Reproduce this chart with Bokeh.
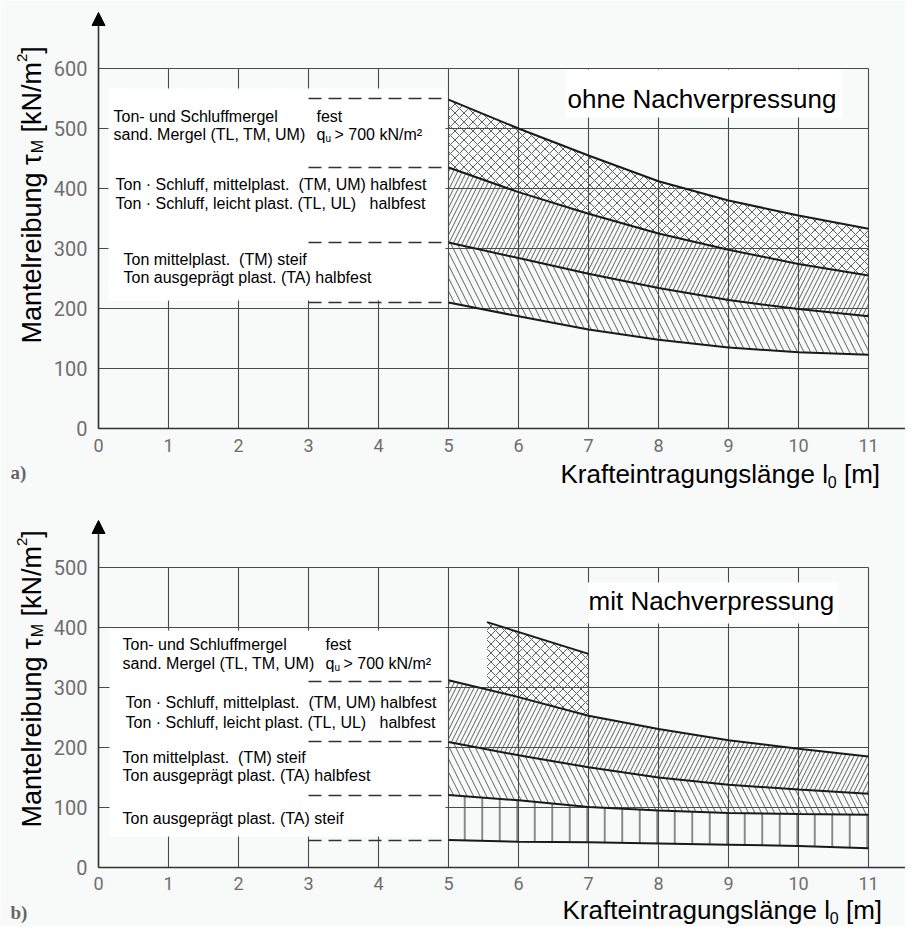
import math
from bokeh.plotting import figure
from bokeh.models import Range1d, Arrow, NormalHead
from bokeh.core.properties import value
from bokeh.embed import file_html
from bokeh.resources import INLINE

# ---------------- data ----------------
x_ticks = [0, 1, 2, 3, 4, 5, 6, 7, 8, 9, 10, 11]
y_ticks_a = [0, 100, 200, 300, 400, 500, 600]
y_ticks_b = [0, 100, 200, 300, 400, 500]

# a) ohne Nachverpressung
xa = [5, 6, 7, 8, 9, 10, 11]
a_c1 = [548, 500, 455, 412, 380, 355, 333]
a_c2 = [435, 394, 358, 325, 298, 274, 255]
a_c3 = [310, 284, 258, 234, 214, 199, 187]
a_c4 = [210, 187, 165, 148, 135, 127, 123]
a_levels = [550, 435, 310, 210]

# b) mit Nachverpressung
xb = [5, 6, 7, 8, 9, 10, 11]
b_c1 = [312, 284, 253, 231, 212, 198, 185]
b_c2 = [209, 187, 167, 150, 138, 130, 123]
b_c3 = [121, 112, 101, 95, 91, 89, 88]
b_c4 = [46, 43, 42, 40, 38, 36, 32]
b_cross_x = [5.55, 6, 7]
b_cross_top = [409, 393, 356]
b_cross_bot = [297, 284, 253]
b_levels = [310, 210, 120, 45]

dash_from, dash_to = 3, 5

NB = "\u00a0"
a_texts = [
    "Ton- und Schluffmergel",
    "sand. Mergel (TL, TM, UM)",
    "Ton · Schluff, mittelplast." + NB + " (TM, UM) halbfest",
    "Ton · Schluff, leicht plast. (TL, UL)" + NB + NB + " halbfest",
    "Ton mittelplast." + NB + " (TM) steif",
    "Ton ausgeprägt plast. (TA) halbfest",
]
b_texts = a_texts + ["Ton ausgeprägt plast. (TA) steif"]

# ---------------- layout ----------------
W, H = 905, 926
PX_PER_X = 70.0
PX_PER_Y = 0.6
X0 = 98.0
Y0A, Y0B = 428.0, 867.0          # page rows of the two zero lines
OFF_A = 0.0
OFF_B = (Y0A - Y0B) / PX_PER_Y   # vertical shift of panel b in the shared frame
FONT = "Liberation Sans"
TICK_FONT = "Roboto"
BG = "#f8f9f9"
GRID = "#4a4a4a"
HATCH = "#505050"
CURVE = "#1a1a1a"
AXIS = "#333333"


def fx(px):
    return (px - X0) / PX_PER_X


def fy(py):
    return (Y0A - py) / PX_PER_Y


def sh(vals, off):
    return [v + off for v in vals]


p = figure(width=W, height=H, x_range=Range1d(fx(0), fx(W)), y_range=Range1d(fy(H), fy(0)),
           x_axis_type=None, y_axis_type=None, output_backend="svg", toolbar_location=None,
           min_border=0)
p.background_fill_color = BG
p.border_fill_color = BG
p.outline_line_color = None


def grid(yticks, off):
    n = len(x_ticks)
    ymax = max(yticks)
    p.segment(x0=x_ticks, y0=[off] * n, x1=x_ticks, y1=[ymax + off] * n, line_color=GRID, line_width=1.1)
    m = len(yticks)
    p.segment(x0=[0] * m, y0=sh(yticks, off), x1=[max(x_ticks)] * m, y1=sh(yticks, off),
              line_color=GRID, line_width=1.1)


def axes(yticks, off, tip_py, xlab_py):
    p.segment(x0=[0], y0=[off], x1=[fx(W)], y1=[off], line_color=AXIS, line_width=1.6)
    p.add_layout(Arrow(end=NormalHead(size=13, fill_color="black", line_color="black"),
                       x_start=0, y_start=off, x_end=0, y_end=fy(tip_py),
                       line_color=AXIS, line_width=1.6))
    p.text(x=[fx(87)] * len(yticks), y=sh(yticks, off), text=[str(t) for t in yticks],
           text_font=value(TICK_FONT), text_font_size="20px", text_color="#6e6e6e",
           text_align="right", text_baseline="middle")
    p.text(x=x_ticks, y=[fy(xlab_py)] * len(x_ticks), text=[str(t) for t in x_ticks],
           text_font=value(TICK_FONT), text_font_size="18px", text_color="#6e6e6e",
           text_align="center", text_baseline="middle")


def txt(x, y, s, size, angle=0.0, align="left", font=FONT, color="black", style="normal"):
    p.text(x=[x], y=[y], text=[s], angle=angle, text_font=value(font), text_font_size=size,
           text_color=color, text_align=align, text_baseline="middle", text_font_style=style)


def ylabel(py_start, mid_px=31):
    fs = 27
    pieces = [("Mantelreibung τ", fs, 0, 6.336 + 0.278 + 0.43),
              ("M", 16, 6, 0.833 + 0.278 * fs / 16),
              ("[kN/m", fs, 0, 2.611),
              ("2", 15, -10, 0.556),
              ("]", fs, 0, 0.278)]
    s = py_start
    for t, size, o, em in pieces:
        txt(fx(mid_px + o), fy(s), t, f"{size}px", angle=math.pi / 2)
        s -= em * size


def xlabel(px_left, py_mid):
    w1 = 10.283 * 26
    txt(fx(px_left), fy(py_mid), "Krafteintragungslänge l", "26px")
    txt(fx(px_left + w1), fy(py_mid + 8), "0", "16px")
    txt(fx(px_left + w1 + 0.556 * 16 + 0.278 * 26), fy(py_mid), "[m]", "26px")


def left_texts(xs_px, ys_px, texts):
    p.text(x=[fx(v) for v in xs_px], y=[fy(v) for v in ys_px], text=texts,
           text_font=value(FONT), text_font_size="16px", text_color="black",
           text_baseline="middle", text_align="left")


def qu(px, py_fest, py_q):
    txt(fx(px), fy(py_fest), "fest", "16px")
    txt(fx(px), fy(py_q), "q", "16px")
    txt(fx(px + 8.9), fy(py_q + 4), "u", "10px")
    txt(fx(px + 18), fy(py_q), "> 700 kN/m²", "16px")


def hatch_band(x, lo, hi, off, pattern, scale, weight=0.9):
    p.varea(x=x, y1=sh(lo, off), y2=sh(hi, off), fill_color=None, fill_alpha=0, hatch_pattern=pattern,
            hatch_scale=scale, hatch_color=HATCH, hatch_weight=weight)


def white_box(l, r, t, b):
    p.quad(left=fx(l), right=fx(r), bottom=fy(b), top=fy(t), fill_color="white", line_color=None)


def dashes(levels, off):
    n = len(levels)
    p.segment(x0=[dash_from] * n, y0=sh(levels, off), x1=[dash_to] * n, y1=sh(levels, off),
              line_color=AXIS, line_width=1.5, line_dash="13 7")


# ---------------- panel a ----------------
grid(y_ticks_a, OFF_A)
white_box(108, 445, 88, 300)
white_box(565, 842, 69, 117)
hatch_band(xa, a_c2, a_c1, OFF_A, "x", 9)
hatch_band(xa, a_c3, a_c2, OFF_A, "/", 9)
hatch_band(xa, a_c4, a_c3, OFF_A, "\\", 13)
for c in (a_c1, a_c2, a_c3, a_c4):
    p.line(xa, sh(c, OFF_A), line_color=CURVE, line_width=2)
dashes(a_levels, OFF_A)
left_texts([113, 113, 115, 115, 123, 123], [116, 134, 184, 203, 259, 277], a_texts)
qu(316, 116, 134)
txt(fx(567), fy(98), "ohne Nachverpressung", "26px")
axes(y_ticks_a, OFF_A, 12, 445)
ylabel(343)
xlabel(560, 473)
txt(fx(10), fy(472), "a)", "19px", font="Liberation Serif", color="#666666", style="bold")

# ---------------- panel b ----------------
grid(y_ticks_b, OFF_B)
white_box(109, 445, 630, 836)
white_box(587, 838, 582, 623)
hatch_band(b_cross_x, b_cross_bot, b_cross_top, OFF_B, "x", 9)
hatch_band(xb, b_c2, b_c1, OFF_B, "/", 9)
hatch_band(xb, b_c3, b_c2, OFF_B, "\\", 13)
hatch_band(xb, b_c4, b_c3, OFF_B, "|", 17.5, 1.3)
for c in (b_c1, b_c2, b_c3, b_c4):
    p.line(xb, sh(c, OFF_B), line_color=CURVE, line_width=2)
p.line([b_cross_x[0], b_cross_x[-1]], sh([b_cross_top[0], b_cross_top[-1]], OFF_B),
       line_color=CURVE, line_width=2)
dashes(b_levels, OFF_B)
left_texts([122, 122, 125, 125, 122, 122, 122], [644, 663, 702, 722, 757, 775, 818], b_texts)
qu(325, 644, 663)
txt(fx(588), fy(600), "mit Nachverpressung", "26px")
axes(y_ticks_b, OFF_B, 520, 883)
ylabel(827)
xlabel(562, 909)
txt(fx(10), fy(912), "b)", "19px", font="Liberation Serif", color="#666666", style="bold")

open("out.html", "w").write(file_html(p, INLINE))
